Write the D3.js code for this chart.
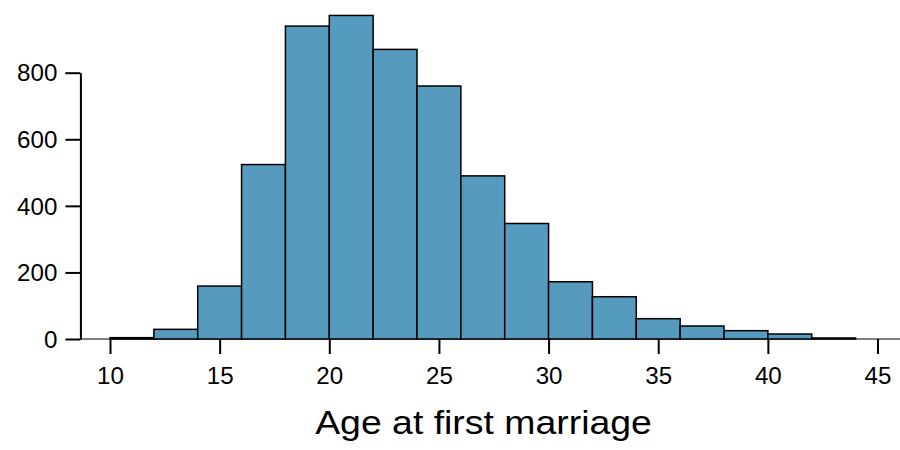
<!DOCTYPE html>
<html>
<head>
<meta charset="utf-8">
<script src="https://cdn.jsdelivr.net/npm/d3@7"></script>
<style>
  html, body { margin: 0; padding: 0; background: #fff; }
  svg { display: block; }
  text { font-family: "Liberation Sans", Arial, Helvetica, sans-serif; fill: #000; }
</style>
</head>
<body>
<svg id="chart" width="900" height="450"></svg>
<script>
// Histogram data: bin start ages (width 2) and counts
const binStarts = [10, 12, 14, 16, 18, 20, 22, 24, 26, 28, 30, 32, 34, 36, 38, 40, 42];
const binWidth = 2;
const counts = [4, 29, 159, 524, 940, 972, 870, 760, 490, 347, 172, 127, 61, 39, 25, 15, 3];
const xTicks = [10, 15, 20, 25, 30, 35, 40, 45];
const yTicks = [0, 200, 400, 600, 800];
const xLabel = "Age at first marriage";

const bins = binStarts.map((s, i) => ({ x0: s, x1: s + binWidth, n: counts[i] }));

const svg = d3.select("#chart");
const x = d3.scaleLinear().domain([10, 45]).range([110, 877.5]);
const y = d3.scaleLinear().domain([0, 800]).range([339, 72.7]);
const tickStretch = 1.05;
const titleStretch = 1.1;

// baseline across plot region
svg.append("line")
  .attr("x1", x(8.65)).attr("x2", x(46.05))
  .attr("y1", y(0)).attr("y2", y(0))
  .attr("stroke", "#000").attr("stroke-width", 1);

// bars
svg.append("g").selectAll("rect").data(bins).join("rect")
  .attr("x", d => x(d.x0))
  .attr("width", d => x(d.x1) - x(d.x0))
  .attr("y", d => y(d.n))
  .attr("height", d => y(0) - y(d.n))
  .attr("fill", "#569BBD")
  .attr("stroke", "#000")
  .attr("stroke-width", 1.5);

// y axis
const gy = svg.append("g").attr("transform", `translate(${x(8.65)},0)`)
  .call(d3.axisLeft(y).tickValues(yTicks).tickSize(15).tickSizeOuter(0).tickPadding(8));
gy.select(".domain").attr("stroke-width", 2);
gy.selectAll(".tick line").attr("stroke-width", 2);
gy.selectAll(".tick text")
  .attr("font-size", 23).attr("font-family", null)
  .attr("x", 0).attr("dy", null).attr("y", 0)
  .attr("transform", `translate(-23,8.2) scale(${tickStretch},1)`);

// x axis (ticks only)
const gx = svg.append("g").attr("transform", `translate(0,${y(0)})`)
  .call(d3.axisBottom(x).tickValues(xTicks).tickSize(15).tickSizeOuter(0));
gx.select(".domain").remove();
gx.selectAll(".tick line").attr("stroke-width", 2);
gx.selectAll(".tick text")
  .attr("font-size", 23).attr("font-family", null)
  .attr("x", 0).attr("y", 0).attr("dy", null)
  .attr("transform", `translate(0,44.5) scale(${tickStretch},1)`);

// x label
svg.append("text")
  .attr("text-anchor", "middle")
  .attr("font-size", 34)
  .attr("transform", `translate(483.5,434) scale(${titleStretch},1)`)
  .text(xLabel);
</script>
</body>
</html>
